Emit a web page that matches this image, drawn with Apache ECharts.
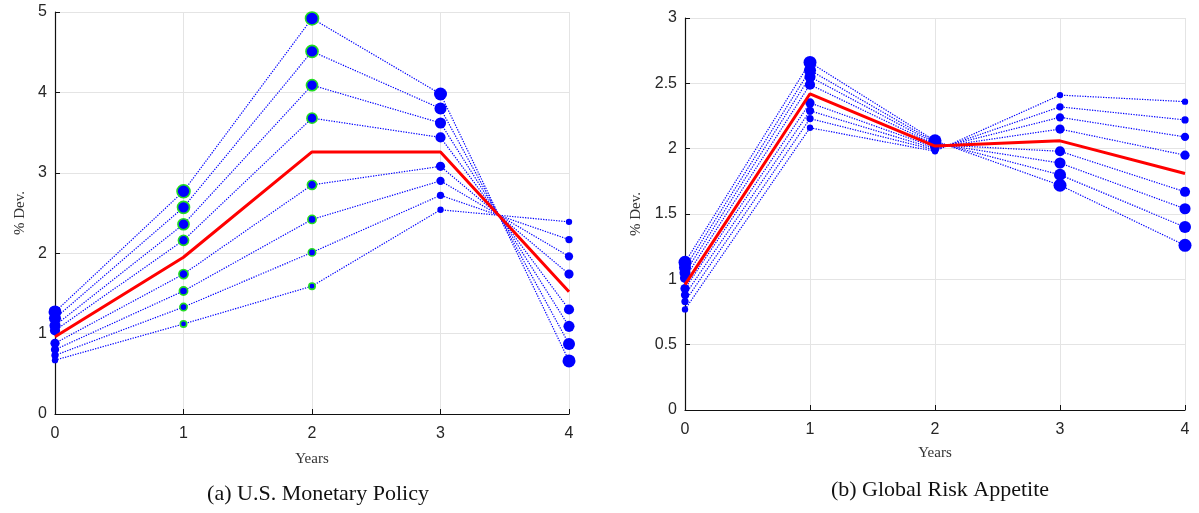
<!DOCTYPE html>
<html>
<head>
<meta charset="utf-8">
<script src="https://cdn.jsdelivr.net/npm/echarts@6/dist/echarts.min.js"></script>
<style>
  html, body { margin: 0; padding: 0; background: #fff; }
  #chart { width: 1199px; height: 513px; }
</style>
</head>
<body>
<div id="chart"></div>
<script>
// Horizon in years
const years = [0, 1, 2, 3, 4];

// (a) U.S. monetary policy: responses for each shock size, largest first
const usmpPaths = [
  [1.27, 2.77, 4.92, 3.98, 0.66],
  [1.19, 2.57, 4.51, 3.80, 0.87],
  [1.10, 2.36, 4.09, 3.62, 1.09],
  [1.04, 2.16, 3.68, 3.44, 1.30],
  [0.88, 1.74, 2.85, 3.08, 1.74],
  [0.80, 1.53, 2.42, 2.90, 1.96],
  [0.73, 1.33, 2.01, 2.72, 2.17],
  [0.67, 1.12, 1.59, 2.54, 2.39]
];
const usmpMean = [0.96, 1.95, 3.26, 3.26, 1.52];

// (b) Global risk appetite: responses for each shock size, largest first
const graPaths = [
  [1.13, 2.66, 2.06, 1.72, 1.26],
  [1.09, 2.60, 2.05, 1.80, 1.40],
  [1.05, 2.55, 2.04, 1.89, 1.54],
  [1.01, 2.49, 2.03, 1.98, 1.67],
  [0.93, 2.35, 2.01, 2.15, 1.95],
  [0.88, 2.29, 2.00, 2.24, 2.09],
  [0.83, 2.23, 1.99, 2.32, 2.22],
  [0.77, 2.16, 1.98, 2.41, 2.36]
];
const graMean = [0.96, 2.42, 2.02, 2.06, 1.81];

const yTicksA = { min: 0, max: 5, interval: 1 };
const yTicksB = { min: 0, max: 3, interval: 0.5 };

const titles = ['(a) U.S. Monetary Policy', '(b) Global Risk Appetite'];

// styling
const SERIF = '"Liberation Serif", "DejaVu Serif", serif';
const SANS = '"Liberation Sans", Arial, sans-serif';
const BLUE = '#0000ff';
const GRID_GRAY = '#e4e4e4';
const markerSize = i => 13 - i * 0.95;

function xAxisFor(gridIndex, nameGap, labelMargin) {
  return {
    gridIndex, type: 'value', min: 0, max: 4, interval: 1,
    name: 'Years', nameLocation: 'middle', nameGap,
    nameTextStyle: { fontFamily: SERIF, fontSize: 15, color: '#333' },
    axisLine: { show: true, onZero: false, lineStyle: { color: '#111', width: 1.2 } },
    axisTick: { show: true, inside: true, length: 5, lineStyle: { color: '#111' } },
    axisLabel: { fontFamily: SANS, fontSize: 16, color: '#262626', margin: labelMargin },
    splitLine: { show: true, lineStyle: { color: GRID_GRAY, width: 1 } }
  };
}
function yAxisFor(gridIndex, ticks, nameGap) {
  return {
    gridIndex, type: 'value', min: ticks.min, max: ticks.max, interval: ticks.interval,
    name: '% Dev.', nameLocation: 'middle', nameGap,
    nameTextStyle: { fontFamily: SERIF, fontSize: 15, color: '#333' },
    axisLine: { show: true, onZero: false, lineStyle: { color: '#111', width: 1.2 } },
    axisTick: { show: true, inside: true, length: 5, lineStyle: { color: '#111' } },
    axisLabel: { fontFamily: SANS, fontSize: 16, color: '#262626', margin: 8 },
    splitLine: { show: true, lineStyle: { color: GRID_GRAY, width: 1 } }
  };
}

function pathSeries(paths, axisIndex, ringedYears) {
  return paths.map((vals, i) => ({
    type: 'line',
    xAxisIndex: axisIndex, yAxisIndex: axisIndex,
    data: vals.map((v, k) => {
      const item = { value: [years[k], v] };
      if (ringedYears.includes(years[k])) {
        item.itemStyle = { color: BLUE, borderColor: '#22dd22', borderWidth: 1.6 };
      }
      return item;
    }),
    symbol: 'circle',
    symbolSize: markerSize(i),
    showSymbol: true,
    itemStyle: { color: BLUE, borderWidth: 0 },
    lineStyle: { color: BLUE, width: 1.2, type: [1.3, 1.3] },
    silent: true, animation: false, z: 3
  }));
}
function meanSeries(vals, axisIndex) {
  return {
    type: 'line',
    xAxisIndex: axisIndex, yAxisIndex: axisIndex,
    data: vals.map((v, k) => [years[k], v]),
    showSymbol: false, symbol: 'none',
    lineStyle: { color: '#ff0000', width: 3 },
    silent: true, animation: false, z: 4
  };
}

const chart = echarts.init(document.getElementById('chart'), null, { renderer: 'canvas' });
chart.setOption({
  backgroundColor: '#ffffff',
  animation: false,
  title: [
    { text: titles[0], left: 313, top: 478, textAlign: 'center',
      textStyle: { fontFamily: SERIF, fontSize: 22, fontWeight: 'normal', color: '#111' } },
    { text: titles[1], left: 935, top: 474, textAlign: 'center',
      textStyle: { fontFamily: SERIF, fontSize: 22, fontWeight: 'normal', color: '#111' } }
  ],
  grid: [
    { left: 55, top: 12, width: 514, height: 402 },
    { left: 685, top: 18, width: 500, height: 392 }
  ],
  xAxis: [xAxisFor(0, 38, 12), xAxisFor(1, 36, 12)],
  yAxis: [yAxisFor(0, yTicksA, 27), yAxisFor(1, yTicksB, 41)],
  series: [
    ...pathSeries(usmpPaths, 0, [1, 2]),
    meanSeries(usmpMean, 0),
    ...pathSeries(graPaths, 1, []),
    meanSeries(graMean, 1)
  ]
});
</script>
</body>
</html>
